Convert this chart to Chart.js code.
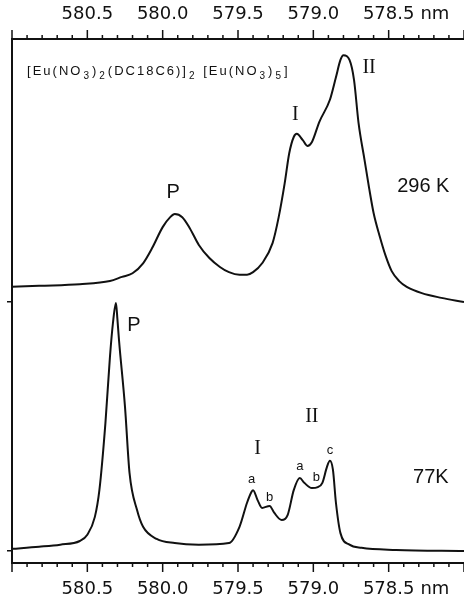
<!DOCTYPE html>
<html>
<head>
<meta charset="utf-8">
<script src="https://cdn.jsdelivr.net/npm/chart.js@4.4.0/dist/chart.umd.min.js"></script>
<style>
  html, body { margin: 0; padding: 0; background: #fff; }
</style>
</head>
<body>
<canvas id="canvas" width="464" height="601"></canvas>
<script>
// wavelength (nm) / intensity (arb. units)
var wl296 = [581.00, 580.82, 580.55, 580.35, 580.27, 580.20, 580.13, 580.07, 580.00, 579.95, 579.92, 579.87, 579.82, 579.76, 579.69, 579.62, 579.56, 579.49, 579.44, 579.40, 579.34, 579.27, 579.23, 579.19, 579.16, 579.13, 579.11, 579.07, 579.04, 579.01, 578.96, 578.89, 578.85, 578.82, 578.80, 578.76, 578.73, 578.70, 578.66, 578.63, 578.60, 578.56, 578.52, 578.48, 578.43, 578.38, 578.28, 578.15, 578.00];
var int296 = [2.9, 3.1, 3.4, 4.0, 4.8, 5.5, 7.4, 10.3, 14.3, 16.2, 16.8, 16.2, 14.1, 10.9, 8.4, 6.7, 5.7, 5.2, 5.2, 5.7, 7.4, 11.3, 16.2, 22.7, 28.4, 31.5, 32.1, 30.9, 29.8, 30.5, 34.4, 38.6, 42.9, 46.2, 47.1, 46.2, 42.4, 34.2, 27.1, 21.8, 17.0, 12.6, 8.8, 5.9, 4.0, 2.9, 1.7, 0.8, 0.0];

var wl77 = [581.00, 580.82, 580.68, 580.55, 580.50, 580.45, 580.42, 580.38, 580.35, 580.33, 580.31, 580.30, 580.29, 580.25, 580.22, 580.17, 580.13, 580.04, 579.92, 579.76, 579.56, 579.49, 579.44, 579.41, 579.40, 579.37, 579.34, 579.29, 579.26, 579.21, 579.17, 579.13, 579.09, 579.06, 579.01, 578.97, 578.94, 578.91, 578.89, 578.87, 578.85, 578.82, 578.76, 578.68, 578.45, 578.00];
var int77 = [0.4, 0.8, 1.2, 1.9, 3.1, 6.5, 11.6, 24.4, 37.0, 43.5, 47.3, 44.1, 40.3, 27.5, 14.9, 7.8, 4.6, 2.3, 1.5, 1.2, 1.5, 4.6, 9.2, 11.3, 11.6, 9.7, 8.2, 8.6, 7.3, 5.9, 6.9, 11.6, 13.9, 13.0, 12.0, 12.2, 13.0, 16.0, 17.2, 15.5, 9.2, 3.4, 1.2, 0.6, 0.2, 0.0];

// zero levels of the two traces (stacked on one axis)
var zero296 = 49.8;
var zero77 = 2.3;

var tickLabels = ['580.5', '580.0', '579.5', '579.0', '578.5'];

// text on the plot: [text, nm, y, kind]
var notes = [
  ['P', 579.93, 70.8, 'sans'],
  ['I', 579.12, 85.5, 'serif'],
  ['II', 578.63, 94.5, 'serif'],
  ['296 K', 578.27, 71.8, 'sans'],
  ['P', 580.19, 45.4, 'sans'],
  ['I', 579.37, 21.8, 'serif'],
  ['II', 579.01, 27.9, 'serif'],
  ['a', 579.41, 16.0, 'small'],
  ['b', 579.29, 12.6, 'small'],
  ['a', 579.09, 18.5, 'small'],
  ['b', 578.98, 16.4, 'small'],
  ['c', 578.89, 21.4, 'small'],
  ['77K', 578.22, 16.4, 'sans']
];

// compound name, pieces: [text, subscript?]
var title = [['[Eu(NO', 0], ['3', 1], [')', 0], ['2', 1], ['(DC18C6)]', 0], ['2', 1], [' [Eu(NO', 0], ['3', 1], [')', 0], ['5', 1], [']', 0]];

function toPoints(wl, vals, zero) {
  return wl.map(function (w, i) { return { x: w, y: vals[i] + zero }; });
}

function isMajor(v) {
  return Math.abs(v * 2 - Math.round(v * 2)) < 1e-6;
}

var axisTicks = {
  id: 'axisTicks',
  afterDraw: function (chart) {
    var ctx = chart.ctx;
    ctx.save();
    ctx.strokeStyle = '#111';
    ctx.lineWidth = 1.5;
    ['x', 'x2'].forEach(function (id) {
      var s = chart.scales[id];
      var top = id === 'x2';
      var y0 = top ? s.bottom : s.top;
      s.ticks.forEach(function (t) {
        var px = s.getPixelForValue(t.value);
        var len = isMajor(t.value) ? 9 : 4;
        ctx.beginPath();
        ctx.moveTo(px, y0);
        ctx.lineTo(px, top ? y0 - len : y0 + len);
        ctx.stroke();
      });
      // "nm" after the last label
      var items = s.getLabelItems();
      items.forEach(function (it) {
        if (it.label !== '578.5') return;
        ctx.font = it.font.string;
        ctx.fillStyle = '#111';
        ctx.textBaseline = it.options.textBaseline;
        ctx.textAlign = 'left';
        var w = ctx.measureText('578.5').width;
        ctx.fillText('nm', it.options.translation[0] + w / 2 + 6, it.options.translation[1] + it.textOffset);
      });
    });
    ctx.restore();
  }
};

var annotations = {
  id: 'annotations',
  afterDatasetsDraw: function (chart) {
    var ctx = chart.ctx;
    var xs = chart.scales.x, ys = chart.scales.y;
    ctx.save();
    ctx.fillStyle = '#111';
    ctx.textAlign = 'center';
    ctx.textBaseline = 'middle';
    notes.forEach(function (n) {
      if (n[3] === 'serif') ctx.font = '20px "Liberation Serif"';
      else if (n[3] === 'small') ctx.font = '13px "Liberation Sans"';
      else ctx.font = '20px "Liberation Sans"';
      ctx.fillText(n[0], xs.getPixelForValue(n[1]), ys.getPixelForValue(n[2]));
    });
    // compound name, spaced out like the typewriter original
    var x = xs.getPixelForValue(580.9);
    var y = ys.getPixelForValue(93.1);
    ctx.textAlign = 'left';
    ctx.textBaseline = 'alphabetic';
    ctx.letterSpacing = '2px';
    title.forEach(function (p) {
      ctx.font = p[1] ? '10px "Liberation Sans"' : '13px "Liberation Sans"';
      ctx.fillText(p[0], x, p[1] ? y + 4 : y);
      x += ctx.measureText(p[0]).width + 1;
    });
    ctx.letterSpacing = '0px';
    ctx.restore();
  }
};

var tickFont = { family: 'DejaVu Sans', size: 18 };

function xLabel(v) {
  var s = v.toFixed(1);
  return tickLabels.indexOf(s) >= 0 && isMajor(v) ? s : '';
}

// tick marks are drawn by the plugin (two lengths), the grid ticks only keep the label gap
function xGrid(len) {
  return { display: true, drawOnChartArea: false, drawTicks: true, tickLength: len, tickColor: 'rgba(0,0,0,0)' };
}

var ctx = document.getElementById('canvas').getContext('2d');
var chart = new Chart(ctx, {
  type: 'line',
  data: {
    datasets: [{
      label: '296 K',
      data: toPoints(wl296, int296, zero296),
      borderColor: '#111',
      borderWidth: 2,
      pointRadius: 0,
      cubicInterpolationMode: 'monotone'
    }, {
      label: '77 K',
      data: toPoints(wl77, int77, zero77),
      borderColor: '#111',
      borderWidth: 2,
      pointRadius: 0,
      cubicInterpolationMode: 'monotone'
    }]
  },
  options: {
    responsive: false,
    animation: false,
    layout: { padding: 0 },
    plugins: { legend: { display: false }, tooltip: { enabled: false } },
    scales: {
      x: {
        type: 'linear', position: 'bottom', reverse: true, min: 578.0, max: 581.0,
        afterFit: function (s) { s.height = 38; },
        grid: xGrid(16),
        border: { display: true, color: '#111', width: 2 },
        ticks: { stepSize: 0.1, autoSkip: false, maxRotation: 0, padding: 0, color: '#111', font: tickFont, callback: xLabel }
      },
      x2: {
        type: 'linear', position: 'top', reverse: true, min: 578.0, max: 581.0,
        afterFit: function (s) { s.height = 39; },
        grid: xGrid(14),
        border: { display: true, color: '#111', width: 2 },
        ticks: { stepSize: 0.1, autoSkip: false, maxRotation: 0, padding: 0, color: '#111', font: tickFont, callback: xLabel }
      },
      y: {
        type: 'linear', min: 0, max: 100,
        afterFit: function (s) { s.width = 12; },
        afterBuildTicks: function (s) { s.ticks = [{ value: zero77 }, { value: zero296 }]; },
        grid: { display: true, drawOnChartArea: false, drawTicks: true, tickLength: 5, color: '#111', lineWidth: 1.5 },
        border: { display: true, color: '#111', width: 2 },
        ticks: { display: false, padding: 0 }
      }
    }
  },
  plugins: [axisTicks, annotations]
});
</script>
</body>
</html>
